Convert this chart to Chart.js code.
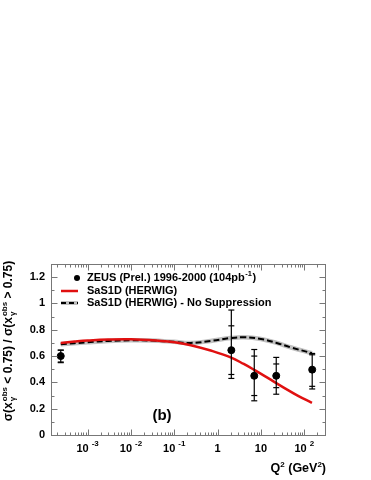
<!DOCTYPE html>
<html><head><meta charset="utf-8">
<script src="https://cdn.jsdelivr.net/npm/chart.js@4"></script>
<style>html,body{margin:0;padding:0;background:#fff}#wrap{width:371px;height:480px}</style>
</head><body><div id="wrap"><canvas id="c" width="371" height="480"></canvas></div>
<script>
// ---- data ----
const dataQ2 = [2.4e-4, 2.07, 7.0, 22.5, 152];
const dataRatio = [0.60, 0.645, 0.45, 0.45, 0.497];
const statLo = [0.555, 0.46, 0.30, 0.36, 0.37];
const statHi = [0.645, 0.83, 0.60, 0.54, 0.61];
const totLo = [0.55, 0.43, 0.26, 0.31, 0.35];
const totHi = [0.645, 0.95, 0.65, 0.59, 0.62];

const redQ2 = [2.4e-4, 5e-4, 1e-3, 3e-3, 1e-2, 5e-2, 0.1, 0.24, 0.69, 2, 4, 7, 15, 30, 70, 150];
const redVal = [0.700, 0.710, 0.718, 0.726, 0.728, 0.715, 0.705, 0.683, 0.642, 0.590, 0.540, 0.495, 0.430, 0.370, 0.300, 0.245];
const nsQ2 = [2.4e-4, 1e-3, 3e-3, 1e-2, 3e-2, 0.1, 0.24, 0.69, 2, 4, 10, 23, 50, 150];
const nsVal = [0.690, 0.705, 0.715, 0.720, 0.718, 0.708, 0.700, 0.715, 0.737, 0.743, 0.730, 0.700, 0.665, 0.622];

const xMajorTicks = [1e-3, 1e-2, 1e-1, 1, 10, 100];
const xTickBase = ['10', '10', '10', '1', '10', '10'];
const xTickExp = ['-3', '-2', '-1', '', '', '2'];
const yMajorTicks = [0, 0.2, 0.4, 0.6, 0.8, 1, 1.2];
const yTickLabels = ['0', '0.2', '0.4', '0.6', '0.8', '1', '1.2'];
const legendLabels = ['ZEUS (Prel.) 1996-2000 (104pb', 'SaS1D (HERWIG)', 'SaS1D (HERWIG) - No Suppression'];

const XMIN = 1.43e-4, XMAX = 300, YMIN = 0, YMAX = 1.3;
const FONT = '"Liberation Sans", Arial, Helvetica, sans-serif';

function pts(xs, ys){ return xs.map((x,i)=>({x:x, y:ys[i]})); }

const decor = {
  id: 'decor',
  afterDatasetsDraw(chart){
    const ctx = chart.ctx, xs = chart.scales.x, ys = chart.scales.y;
    ctx.save();
    ctx.strokeStyle = '#000'; ctx.lineWidth = 1.2;
    dataQ2.forEach((q,i)=>{
      const px = xs.getPixelForValue(q);
      const yt = ys.getPixelForValue(totHi[i]), yb = ys.getPixelForValue(totLo[i]);
      ctx.beginPath(); ctx.moveTo(px, yt); ctx.lineTo(px, yb); ctx.stroke();
      [totHi[i], totLo[i], statHi[i], statLo[i]].forEach(v=>{
        const py = ys.getPixelForValue(v);
        ctx.beginPath(); ctx.moveTo(px-3, py); ctx.lineTo(px+3, py); ctx.stroke();
      });
    });
    ctx.restore();
  },
  afterDraw(chart){
    const ctx = chart.ctx, xs = chart.scales.x, ys = chart.scales.y, a = chart.chartArea;
    ctx.save();
    // frame
    ctx.strokeStyle = '#777'; ctx.lineWidth = 1;
    const L = Math.round(a.left)+0.5, R = Math.round(a.right)+0.5, T = Math.round(a.top)+0.5, B = Math.round(a.bottom)+0.5;
    ctx.strokeRect(L, T, R-L, B-T);
    ctx.beginPath();
    for (let e = -4; e <= 2; e++) {
      for (let m = 1; m <= 9; m++) {
        const v = m * Math.pow(10, e);
        if (v < XMIN || v > XMAX) continue;
        const px = Math.round(xs.getPixelForValue(v)) + 0.5;
        const len = (m === 1) ? 6 : 3;
        ctx.moveTo(px, B); ctx.lineTo(px, B - len);
        ctx.moveTo(px, T); ctx.lineTo(px, T + len);
      }
    }
    for (let k = 0; k <= 13; k++) {
      const v = k * 0.1;
      const py = Math.round(ys.getPixelForValue(v)) + 0.5;
      const len = (k % 2 === 0) ? 6 : 3;
      ctx.moveTo(L, py); ctx.lineTo(L + len, py);
      ctx.moveTo(R, py); ctx.lineTo(R - len, py);
    }
    ctx.stroke();

    ctx.fillStyle = '#000';
    // y tick labels
    ctx.font = 'bold 11px ' + FONT;
    ctx.textAlign = 'right'; ctx.textBaseline = 'middle';
    yMajorTicks.forEach((v,i)=>{
      ctx.fillText(yTickLabels[i], a.left - 6, ys.getPixelForValue(v));
    });
    // x tick labels
    ctx.textBaseline = 'alphabetic';
    xMajorTicks.forEach((v,i)=>{
      const px = xs.getPixelForValue(v);
      ctx.font = 'bold 11px ' + FONT;
      const wb = ctx.measureText(xTickBase[i]).width;
      ctx.font = 'bold 8px ' + FONT;
      const we = xTickExp[i] ? ctx.measureText(xTickExp[i]).width + 3 : 0;
      const x0 = px - (wb + we) / 2;
      ctx.textAlign = 'left';
      ctx.font = 'bold 11px ' + FONT;
      ctx.fillText(xTickBase[i], x0, 452);
      if (xTickExp[i]) { ctx.font = 'bold 8px ' + FONT; ctx.fillText(xTickExp[i], x0 + wb + 3, 446); }
    });
    // x title Q2 (GeV2)
    {
      const parts = [['Q', 12.5, 0], ['2', 8, -5], [' (GeV', 12.5, 0], ['2', 8, -5], [')', 12.5, 0]];
      let w = 0;
      parts.forEach(p=>{ ctx.font = 'bold '+p[1]+'px '+FONT; w += ctx.measureText(p[0]).width; });
      let x = 326 - w;
      ctx.textAlign = 'left';
      parts.forEach(p=>{ ctx.font = 'bold '+p[1]+'px '+FONT; ctx.fillText(p[0], x, 472 + p[2]); x += ctx.measureText(p[0]).width; });
    }
    // y title (rotated)
    {
      ctx.save();
      ctx.translate(11.5, 341);
      ctx.rotate(-Math.PI/2);
      const seg = [
        {t:'\u03c3(x'}, {stack:true}, {t:' < 0.75) / \u03c3(x'}, {stack:true}, {t:' > 0.75)'}
      ];
      const MAIN = 'bold 12px ' + FONT, SCR = 'bold 8px ' + FONT;
      ctx.font = SCR;
      const wObs = ctx.measureText('obs').width;
      let w = 0;
      seg.forEach(g=>{ if (g.stack) w += wObs + 1; else { ctx.font = MAIN; w += ctx.measureText(g.t).width; } });
      let x = -w/2;
      ctx.textAlign = 'left'; ctx.textBaseline = 'alphabetic';
      seg.forEach(g=>{
        if (g.stack) {
          ctx.font = SCR;
          ctx.fillText('\u03b3', x + 1, 3);
          ctx.fillText('obs', x + 1, -5);
          x += wObs + 1;
        } else {
          ctx.font = MAIN;
          ctx.fillText(g.t, x, 0);
          x += ctx.measureText(g.t).width;
        }
      });
      ctx.restore();
    }
    // legend
    {
      ctx.textAlign = 'left'; ctx.textBaseline = 'middle';
      ctx.font = 'bold 11px ' + FONT;
      const lx = 87, ly = [278, 291, 303];
      ctx.beginPath(); ctx.arc(77, ly[0], 3, 0, Math.PI*2); ctx.fill();
      ctx.fillText(legendLabels[0], lx, ly[0]);
      const w0 = ctx.measureText(legendLabels[0]).width;
      ctx.font = 'bold 7.5px ' + FONT;
      ctx.fillText('-1', lx + w0 + 0.5, ly[0] - 4);
      const we = ctx.measureText('-1').width;
      ctx.font = 'bold 11px ' + FONT;
      ctx.fillText(')', lx + w0 + we + 1, ly[0]);
      ctx.strokeStyle = '#e01010'; ctx.lineWidth = 2.5;
      ctx.beginPath(); ctx.moveTo(61, ly[1]); ctx.lineTo(78, ly[1]); ctx.stroke();
      ctx.fillText(legendLabels[1], lx, ly[1]);
      ctx.strokeStyle = '#c0c0c0'; ctx.lineWidth = 4;
      ctx.beginPath(); ctx.moveTo(61, ly[2]); ctx.lineTo(78, ly[2]); ctx.stroke();
      ctx.strokeStyle = '#000'; ctx.lineWidth = 2; ctx.setLineDash([5,3]);
      ctx.beginPath(); ctx.moveTo(61, ly[2]); ctx.lineTo(78, ly[2]); ctx.stroke();
      ctx.setLineDash([]);
      ctx.fillText(legendLabels[2], lx, ly[2]);
    }
    // (b)
    ctx.font = 'bold 15px ' + FONT;
    ctx.textAlign = 'center'; ctx.textBaseline = 'middle';
    ctx.fillText('(b)', 162, 416);
    ctx.restore();
  }
};

new Chart(document.getElementById('c'), {
  type: 'line',
  data: {
    datasets: [
      { label: 'band', data: pts(nsQ2, nsVal), borderColor: '#c0c0c0', borderWidth: 4.5, pointRadius: 0, tension: 0.4, fill: false, order: 4 },
      { label: 'SaS1D (HERWIG) - No Suppression', data: pts(nsQ2, nsVal), borderColor: '#000', borderWidth: 2, borderDash: [6,3], pointRadius: 0, tension: 0.4, fill: false, order: 3 },
      { label: 'SaS1D (HERWIG)', data: pts(redQ2, redVal), borderColor: '#e01010', borderWidth: 2.5, pointRadius: 0, tension: 0.4, fill: false, order: 2 },
      { label: 'ZEUS (Prel.) 1996-2000', type: 'scatter', data: pts(dataQ2, dataRatio), backgroundColor: '#000', borderColor: '#000', pointRadius: 3.5, showLine: false, order: 1 }
    ]
  },
  options: {
    responsive: false, animation: false,
    layout: { padding: { left: 51, right: 46, top: 264, bottom: 45 } },
    plugins: { legend: { display: false }, tooltip: { enabled: false } },
    scales: {
      x: { type: 'logarithmic', min: XMIN, max: XMAX, display: false },
      y: { type: 'linear', min: YMIN, max: YMAX, display: false }
    }
  },
  plugins: [decor]
});
</script>
</body></html>
